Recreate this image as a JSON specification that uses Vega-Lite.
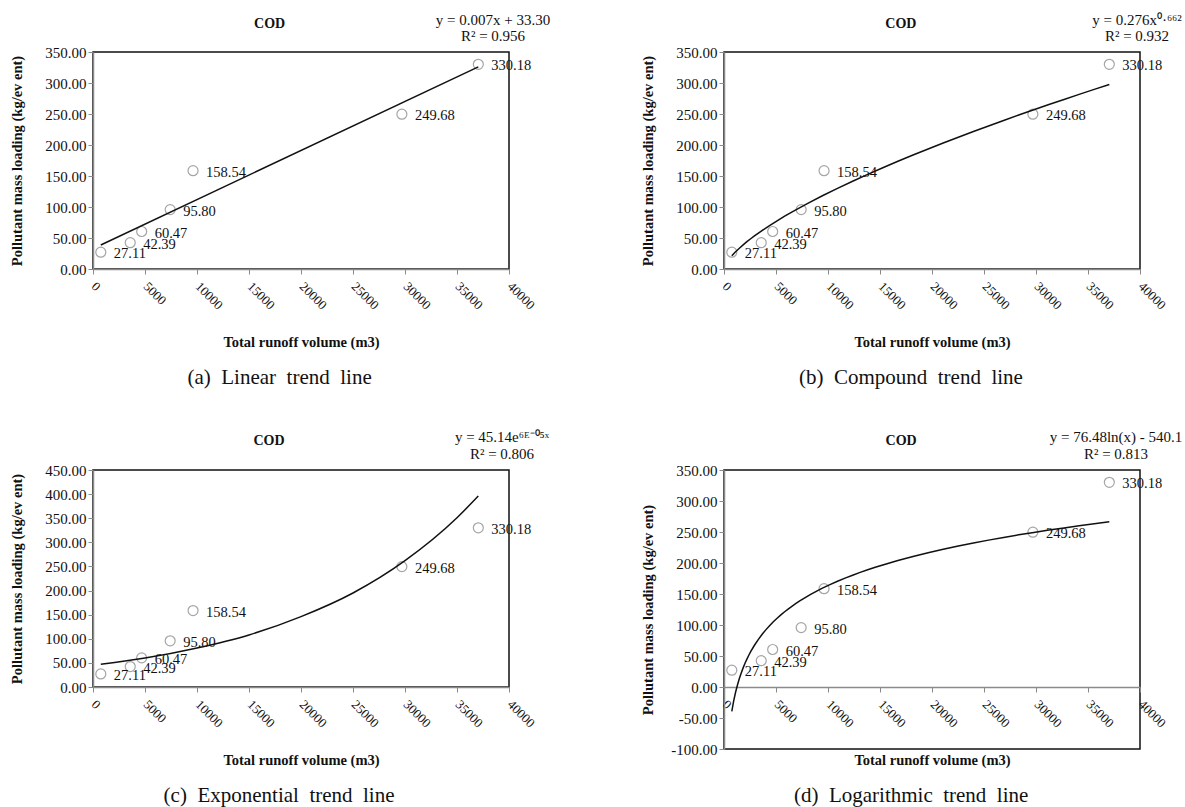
{
  "$schema": "https://vega.github.io/schema/vega-lite/v6.json",
  "padding": {"left": 8, "top": 12, "right": 0, "bottom": 0},
  "datasets": {
    "pts": [
      {"volume": 750, "load": 27.11},
      {"volume": 3580, "load": 42.39},
      {"volume": 4680, "load": 60.47},
      {"volume": 7420, "load": 95.80},
      {"volume": 9620, "load": 158.54},
      {"volume": 29700, "load": 249.68},
      {"volume": 37050, "load": 330.18}
    ],
    "expTrend": [
      {"volume": 750, "load": 47},
      {"volume": 5000, "load": 60},
      {"volume": 10000, "load": 81},
      {"volume": 15000, "load": 108},
      {"volume": 20000, "load": 146},
      {"volume": 25000, "load": 195},
      {"volume": 30000, "load": 262},
      {"volume": 35000, "load": 351},
      {"volume": 37050, "load": 396}
    ]
  },
  "config": {
    "font": "Liberation Serif",
    "view": {"stroke": "#111111", "strokeWidth": 1.5},
    "axis": {
      "labelFont": "Liberation Serif", "titleFont": "Liberation Serif",
      "labelColor": "#111111", "titleColor": "#111111",
      "titleFontWeight": "bold", "titleFontSize": 14.5,
      "domainColor": "#8a8a8a", "domainWidth": 1.5,
      "tickColor": "#8a8a8a", "tickSize": 5, "grid": false,
      "labelFlush": false, "labelOverlap": false, "labelBound": false
    },
    "title": {"font": "Liberation Serif", "color": "#111111"},
    "locale": {"number": {"decimal": ".", "thousands": ",", "grouping": [3], "currency": ["$", ""], "minus": "-"}}
  },
  "columns": 2,
  "align": "each",
  "spacing": {"row": 40, "column": 88},
  "concat": [
    {
      "title": {"text": "(a)\u00a0 Linear\u00a0 trend\u00a0 line", "orient": "bottom", "anchor": "middle", "fontSize": 21, "fontWeight": "normal", "offset": 18},
      "vconcat": [{
        "title": {"text": "COD", "anchor": "middle", "fontSize": 14, "fontWeight": "bold", "dx": -10, "dy": 19, "offset": 0},
        "vconcat": [{
          "width": 416, "height": 217,
          "title": {"text": ["y = 0.007x + 33.30", "R² = 0.956"], "anchor": "end", "frame": "group", "align": "center", "dx": -16, "offset": 1, "fontSize": 15, "fontWeight": "normal", "lineHeight": 16},
          "data": {"name": "pts"},
          "encoding": {
            "x": {"field": "volume", "type": "quantitative", "scale": {"domain": [0, 40000]},
              "axis": {"title": "Total runoff volume (m3)", "values": [0, 5000, 10000, 15000, 20000, 25000, 30000, 35000, 40000], "format": "d", "labelAngle": 45, "labelAlign": "left", "labelBaseline": "middle", "labelPadding": 10, "labelFontSize": 13, "titleY": 73, "titleBaseline": "middle"}},
            "y": {"field": "load", "type": "quantitative", "scale": {"domain": [0, 350]},
              "axis": {"title": "Pollutant mass loading (kg/ev ent)", "values": [0, 50, 100, 150, 200, 250, 300, 350], "format": ".2f", "labelFontSize": 15, "labelPadding": 2, "titleX": -76, "titleBaseline": "middle"}}
          },
          "layer": [
            {"mark": {"type": "point", "shape": "circle", "filled": false, "size": 100, "color": "#808080", "strokeWidth": 1.2}},
            {"mark": {"type": "text", "align": "left", "baseline": "middle", "dx": 13, "dy": 2, "fontSize": 14.5, "color": "#111111"}, "encoding": {"text": {"field": "load", "format": ".2f"}}},
            {"transform": [{"regression": "load", "on": "volume", "method": "linear"}], "mark": {"type": "line", "color": "#111111", "strokeWidth": 1.5}}
          ]
        }]
      }]
    },
    {
      "title": {"text": "(b)\u00a0 Compound\u00a0 trend\u00a0 line", "orient": "bottom", "anchor": "middle", "fontSize": 21, "fontWeight": "normal", "offset": 18},
      "vconcat": [{
        "title": {"text": "COD", "anchor": "middle", "fontSize": 14, "fontWeight": "bold", "dx": -10, "dy": 19, "offset": 0},
        "vconcat": [{
          "width": 416, "height": 217,
          "title": {"text": ["y = 0.276x⁰·⁶⁶²", "R² = 0.932"], "anchor": "end", "frame": "group", "align": "center", "dx": -3, "offset": 1, "fontSize": 15, "fontWeight": "normal", "lineHeight": 16},
          "data": {"name": "pts"},
          "encoding": {
            "x": {"field": "volume", "type": "quantitative", "scale": {"domain": [0, 40000]},
              "axis": {"title": "Total runoff volume (m3)", "values": [0, 5000, 10000, 15000, 20000, 25000, 30000, 35000, 40000], "format": "d", "labelAngle": 45, "labelAlign": "left", "labelBaseline": "middle", "labelPadding": 10, "labelFontSize": 13, "titleY": 73, "titleBaseline": "middle"}},
            "y": {"field": "load", "type": "quantitative", "scale": {"domain": [0, 350]},
              "axis": {"title": "Pollutant mass loading (kg/ev ent)", "values": [0, 50, 100, 150, 200, 250, 300, 350], "format": ".2f", "labelFontSize": 15, "labelPadding": 2, "titleX": -76, "titleBaseline": "middle"}}
          },
          "layer": [
            {"mark": {"type": "point", "shape": "circle", "filled": false, "size": 100, "color": "#808080", "strokeWidth": 1.2}},
            {"mark": {"type": "text", "align": "left", "baseline": "middle", "dx": 13, "dy": 2, "fontSize": 14.5, "color": "#111111"}, "encoding": {"text": {"field": "load", "format": ".2f"}}},
            {"transform": [{"regression": "load", "on": "volume", "method": "pow"}], "mark": {"type": "line", "color": "#111111", "strokeWidth": 1.5}}
          ]
        }]
      }]
    },
    {
      "title": {"text": "(c)\u00a0 Exponential\u00a0 trend\u00a0 line", "orient": "bottom", "anchor": "middle", "fontSize": 21, "fontWeight": "normal", "offset": 18},
      "vconcat": [{
        "title": {"text": "COD", "anchor": "middle", "fontSize": 14, "fontWeight": "bold", "dx": -10, "dy": 19, "offset": 0},
        "vconcat": [{
          "width": 416, "height": 217,
          "title": {"text": ["y = 45.14e⁶ᴱ⁻⁰⁵ˣ", "R² = 0.806"], "anchor": "end", "frame": "group", "align": "center", "dx": -7, "offset": 1, "fontSize": 15, "fontWeight": "normal", "lineHeight": 17},
          "encoding": {
            "x": {"field": "volume", "type": "quantitative", "scale": {"domain": [0, 40000]},
              "axis": {"title": "Total runoff volume (m3)", "values": [0, 5000, 10000, 15000, 20000, 25000, 30000, 35000, 40000], "format": "d", "labelAngle": 45, "labelAlign": "left", "labelBaseline": "middle", "labelPadding": 10, "labelFontSize": 13, "titleY": 73, "titleBaseline": "middle"}},
            "y": {"field": "load", "type": "quantitative", "scale": {"domain": [0, 450]},
              "axis": {"title": "Pollutant mass loading (kg/ev ent)", "values": [0, 50, 100, 150, 200, 250, 300, 350, 400, 450], "format": ".2f", "labelFontSize": 15, "labelPadding": 2, "titleX": -76, "titleBaseline": "middle"}}
          },
          "layer": [
            {"data": {"name": "pts"}, "mark": {"type": "point", "shape": "circle", "filled": false, "size": 100, "color": "#808080", "strokeWidth": 1.2}},
            {"data": {"name": "pts"}, "mark": {"type": "text", "align": "left", "baseline": "middle", "dx": 13, "dy": 2, "fontSize": 14.5, "color": "#111111"}, "encoding": {"text": {"field": "load", "format": ".2f"}}},
            {"data": {"name": "expTrend"}, "mark": {"type": "line", "color": "#111111", "strokeWidth": 1.5, "interpolate": "monotone"}}
          ]
        }]
      }]
    },
    {
      "title": {"text": "(d)\u00a0 Logarithmic\u00a0 trend\u00a0 line", "orient": "bottom", "anchor": "middle", "fontSize": 21, "fontWeight": "normal", "offset": 18},
      "vconcat": [{
        "title": {"text": "COD", "anchor": "middle", "fontSize": 14, "fontWeight": "bold", "dx": -10, "dy": 19, "offset": 0},
        "vconcat": [{
          "width": 416, "height": 279,
          "title": {"text": ["y = 76.48ln(x) - 540.1", "R² = 0.813"], "anchor": "end", "frame": "group", "align": "center", "dx": -24, "offset": 1, "fontSize": 15, "fontWeight": "normal", "lineHeight": 17},
          "data": {"name": "pts"},
          "encoding": {
            "x": {"field": "volume", "type": "quantitative", "scale": {"domain": [0, 40000]},
              "axis": {"title": "Total runoff volume (m3)", "offset": -62, "values": [0, 5000, 10000, 15000, 20000, 25000, 30000, 35000, 40000], "format": "d", "labelAngle": 45, "labelAlign": "left", "labelBaseline": "middle", "labelPadding": 10, "labelFontSize": 13, "titleY": 73, "titleBaseline": "middle"}},
            "y": {"field": "load", "type": "quantitative", "scale": {"domain": [-100, 350]},
              "axis": {"title": "Pollutant mass loading (kg/ev ent)", "values": [-100, -50, 0, 50, 100, 150, 200, 250, 300, 350], "format": ".2f", "labelFontSize": 15, "labelPadding": 2, "titleX": -76, "titleBaseline": "middle"}}
          },
          "layer": [
            {"mark": {"type": "point", "shape": "circle", "filled": false, "size": 100, "color": "#808080", "strokeWidth": 1.2}},
            {"mark": {"type": "text", "align": "left", "baseline": "middle", "dx": 13, "dy": 2, "fontSize": 14.5, "color": "#111111"}, "encoding": {"text": {"field": "load", "format": ".2f"}}},
            {"transform": [{"regression": "load", "on": "volume", "method": "log"}], "mark": {"type": "line", "color": "#111111", "strokeWidth": 1.5}}
          ]
        }]
      }]
    }
  ]
}
